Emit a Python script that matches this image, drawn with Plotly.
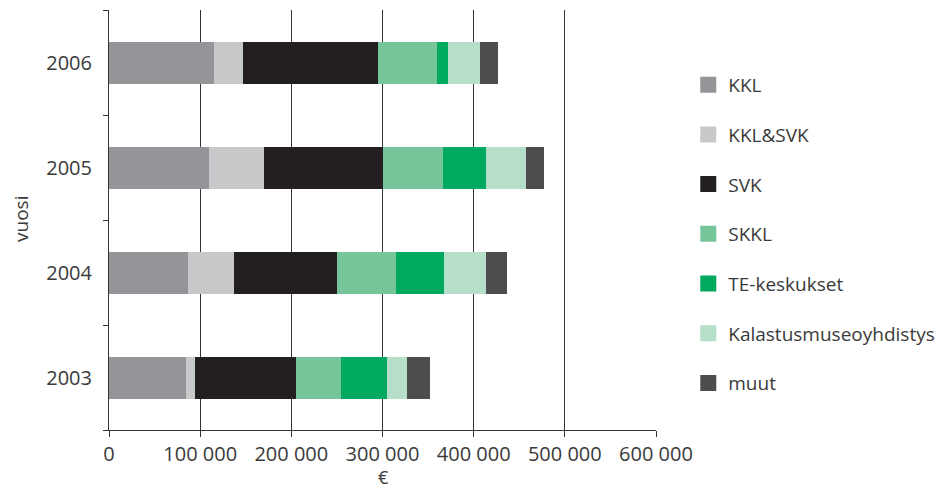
import plotly.graph_objects as go

years = ["2003", "2004", "2005", "2006"]
series_names = ["KKL", "KKL&SVK", "SVK", "SKKL", "TE-keskukset", "Kalastusmuseoyhdistys", "muut"]
kkl = [84000, 87000, 110000, 115000]
kkl_svk = [10000, 50000, 60000, 32000]
svk = [111000, 113000, 131000, 148000]
skkl = [50000, 65000, 65000, 65000]
te = [50000, 52000, 47000, 12000]
kalastus = [22000, 46000, 44000, 35000]
muut = [25000, 24000, 20000, 20000]
x_ticks = [0, 100000, 200000, 300000, 400000, 500000, 600000]

colors = ["#939598", "#c7c8ca", "#231f20", "#77c59b", "#00a860", "#b5dfc8", "#4d4d4f"]
values = [kkl, kkl_svk, svk, skkl, te, kalastus, muut]

font_family = "Open Sans, Noto Sans, sans-serif"
text_color = "#3a3a3a"

fig = go.Figure()
for name, vals, col in zip(series_names, values, colors):
    fig.add_trace(go.Bar(
        y=years, x=vals, name=name, orientation="h",
        marker=dict(color=col, line=dict(width=0)),
        showlegend=False,
    ))
# legend entries with larger square swatches
for name, col in zip(series_names, colors):
    fig.add_trace(go.Scatter(
        x=[None], y=[None], mode="markers", name=name,
        marker=dict(symbol="square", size=20, color=col),
        legendgroup=name, showlegend=True,
    ))

# page body has an 8px margin, so the figure is 8px smaller than the window
fig.update_layout(
    width=938, height=482,
    barmode="stack", bargap=0.6,
    plot_bgcolor="white", paper_bgcolor="white",
    separators=", ",
    margin=dict(l=101, r=290, t=2, b=60, autoexpand=False),
    font=dict(family=font_family, size=19, color=text_color),
    legend=dict(
        x=1.059, y=0.867, xanchor="left", yanchor="top",
        font=dict(size=19, color=text_color),
        traceorder="grouped", tracegroupgap=22,
        itemsizing="trace",
        bgcolor="rgba(0,0,0,0)",
    ),
    xaxis=dict(
        range=[0, 600000], tickvals=x_ticks, tickformat=",d",
        showgrid=True, gridcolor="#333333", gridwidth=1,
        zeroline=False, automargin=False,
        showline=True, linecolor="#333333", linewidth=1,
        ticks="outside", ticklen=6, tickcolor="#333333",
        tickfont=dict(size=20, color=text_color),
        fixedrange=True,
    ),
    yaxis=dict(
        categoryorder="array", categoryarray=years,
        range=[-0.5, 3.5], automargin=False,
        showgrid=False, zeroline=False,
        showline=True, linecolor="#333333", linewidth=1,
        ticks="outside", tickson="boundaries", ticklen=5, tickcolor="#333333",
        ticklabelstandoff=12,
        tickfont=dict(size=20, color=text_color),
        fixedrange=True,
    ),
    annotations=[
        dict(text="€", xref="paper", yref="paper", x=(383 - 109) / 547, y=-(477 - 430) / 420,
             xanchor="center", yanchor="middle", showarrow=False,
             font=dict(size=18, color=text_color)),
        dict(text="vuosi", xref="paper", yref="paper", x=-(109 - 21) / 547, y=(430 - 219) / 420,
             xanchor="center", yanchor="middle", showarrow=False, textangle=-90,
             font=dict(size=19, color=text_color)),
    ],
)

fig.write_html("out.html")
